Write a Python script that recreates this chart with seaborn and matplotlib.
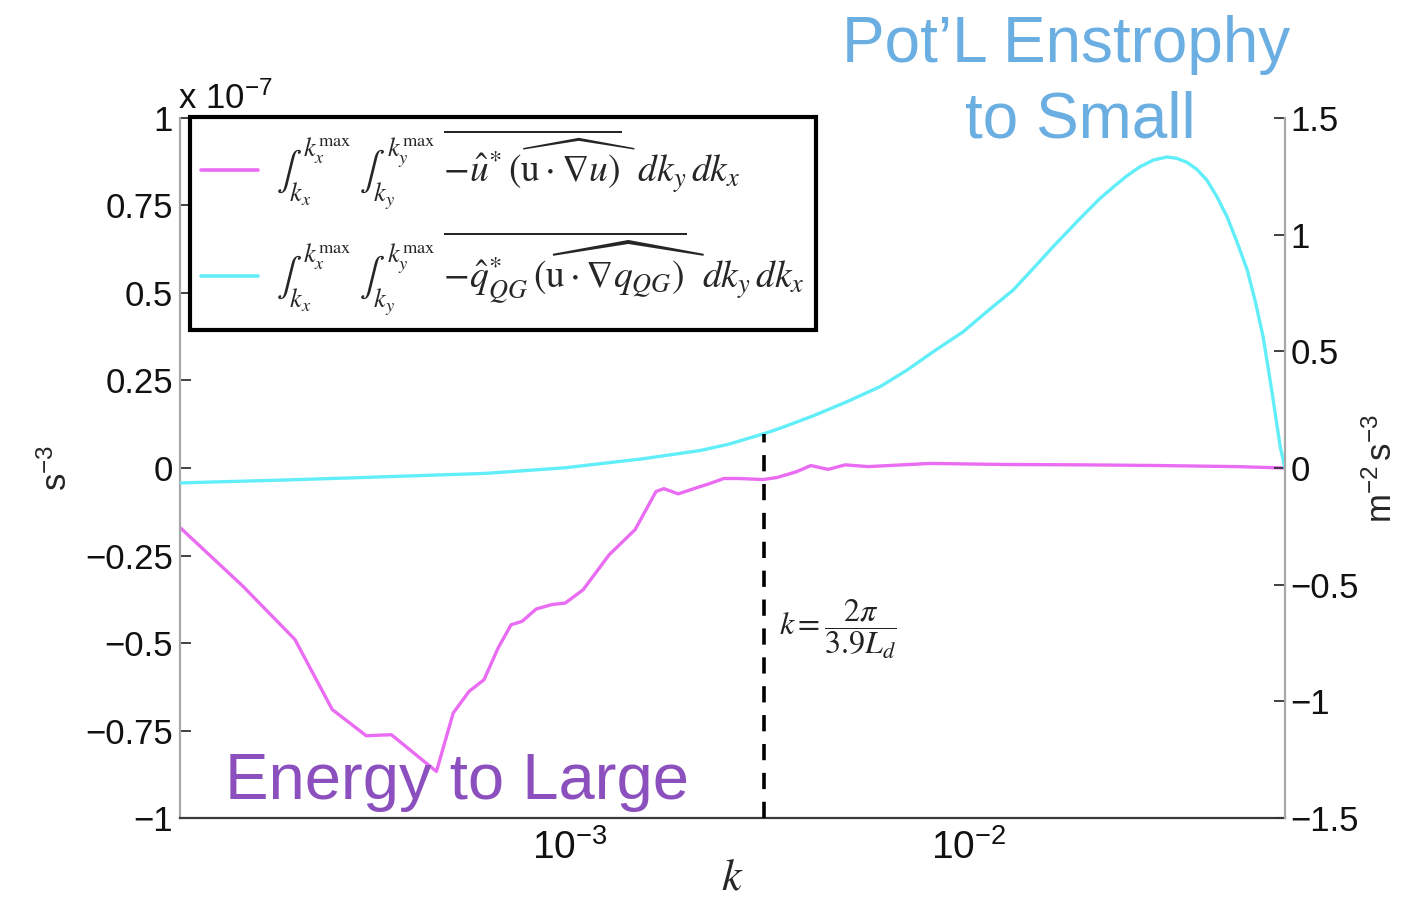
import numpy as np
import pandas as pd
import matplotlib
matplotlib.use("Agg")
import matplotlib.pyplot as plt
import seaborn as sns
from matplotlib.font_manager import FontProperties
from matplotlib.ticker import FixedLocator, FuncFormatter, LogLocator, NullFormatter

# Spectral flux of kinetic energy (left axis, units of 1e-7 s^-3)
k_energy = [1.05e-4, 1.511e-4, 2.04e-4, 2.53e-4, 3.08e-4, 3.56e-4, 4.62e-4, 5.09e-4,
            5.58e-4, 6.08e-4, 6.60e-4, 7.11e-4, 7.58e-4, 8.22e-4, 9.01e-4, 9.72e-4,
            1.078e-3, 1.253e-3, 1.456e-3, 1.643e-3, 1.72e-3, 1.867e-3, 2.07e-3, 2.22e-3,
            2.43e-3, 2.65e-3, 3.05e-3, 3.31e-3, 3.69e-3, 4.02e-3, 4.44e-3, 4.90e-3,
            5.60e-3, 8.0e-3, 1.24e-2, 1.94e-2, 3.01e-2, 4.69e-2, 6.22e-2]
energy_flux = [-0.17, -0.338, -0.49, -0.69, -0.765, -0.762, -0.867, -0.70,
               -0.638, -0.605, -0.514, -0.448, -0.438, -0.403, -0.39, -0.386,
               -0.348, -0.248, -0.176, -0.067, -0.059, -0.074, -0.057, -0.046,
               -0.03, -0.03, -0.033, -0.027, -0.011, 0.007, -0.004, 0.009,
               0.004, 0.013, 0.010, 0.009, 0.007, 0.004, 0.0]

# Spectral flux of QG potential enstrophy (right axis, m^-2 s^-3)
k_enstrophy = [1.05e-4, 1.96e-4, 3.11e-4, 6.15e-4, 9.72e-4, 1.53e-3, 2.12e-3, 2.5e-3,
               3.05e-3, 3.36e-3, 4.08e-3, 4.95e-3, 6.0e-3, 7.01e-3, 8.16e-3, 9.69e-3,
               1.111e-2, 1.294e-2, 1.454e-2, 1.63e-2, 1.905e-2, 2.138e-2, 2.31e-2,
               2.495e-2, 2.69e-2, 2.909e-2, 3.15e-2, 3.33e-2, 3.53e-2, 3.737e-2, 3.96e-2,
               4.196e-2, 4.45e-2, 4.71e-2, 5.0e-2, 5.24e-2, 5.48e-2, 5.76e-2, 6.05e-2,
               6.22e-2]
enstrophy_flux = [-0.064, -0.051, -0.040, -0.023, 0.001, 0.040, 0.075, 0.102,
                  0.146, 0.170, 0.224, 0.284, 0.349, 0.420, 0.499, 0.584,
                  0.670, 0.763, 0.856, 0.949, 1.070, 1.156, 1.205,
                  1.252, 1.291, 1.320, 1.333, 1.327, 1.310, 1.280, 1.234,
                  1.163, 1.077, 0.970, 0.849, 0.713, 0.563, 0.334, 0.091,
                  0.0]

# Deformation wavenumber k = 2*pi / (3.9 L_d)
k_deform = 3.07e-3

left_ticks = [-1, -0.75, -0.5, -0.25, 0, 0.25, 0.5, 0.75, 1]
right_ticks = [-1.5, -1, -0.5, 0, 0.5, 1, 1.5]

energy_label = (r"$\int_{k_x}^{k_x^{\max}}\ \int_{k_y}^{k_y^{\max}}\ "
                r"\overline{-\hat{u}^{*}\,\widehat{\left(\mathrm{u}\cdot\nabla u\right)}}"
                r"\ \ dk_y\,dk_x$")
enstrophy_label = (r"$\int_{k_x}^{k_x^{\max}}\ \int_{k_y}^{k_y^{\max}}\ "
                   r"\overline{-\hat{q}_{QG}^{*}\,\widehat{\left(\mathrm{u}\cdot\nabla q_{QG}\right)}}"
                   r"\ \ dk_y\,dk_x$")

MAGENTA = "#ea6cf2"
CYAN = "#62eef8"

sns.set_theme(style="white")
plt.rcParams["font.family"] = ["Liberation Sans", "DejaVu Sans"]
plt.rcParams["mathtext.fontset"] = "custom"
plt.rcParams["mathtext.rm"] = "Liberation Sans"
plt.rcParams["mathtext.it"] = "Liberation Sans:italic"
plt.rcParams["mathtext.bf"] = "Liberation Sans:bold"
plt.rcParams["axes.unicode_minus"] = True

df_e = pd.DataFrame({"k": k_energy, "flux": energy_flux})
df_q = pd.DataFrame({"k": k_enstrophy, "flux": enstrophy_flux})

fig = plt.figure(figsize=(14.19, 9), dpi=100)
ax = fig.add_axes([0.12685, 0.09111, 0.77872, 0.77778])
ax.set_xscale("log")
ax2 = ax.twinx()
ax2.set_xscale("log")

sns.lineplot(data=df_e, x="k", y="flux", ax=ax, color=MAGENTA, lw=2.4,
             sort=False, estimator=None, label=energy_label, legend=False)
sns.lineplot(data=df_q, x="k", y="flux", ax=ax2, color=CYAN, lw=2.4,
             sort=False, estimator=None, label=enstrophy_label, legend=False)

# dashed marker of the deformation scale, from the axis up to the enstrophy curve
top = np.interp(np.log10(k_deform), np.log10(k_enstrophy), enstrophy_flux)
ax2.plot([k_deform, k_deform], [-1.5, top], color="black", lw=2.6,
         dashes=(4.5, 3.5), zorder=5)

ax.set_xlim(1.05e-4, 6.22e-2)
ax.set_ylim(-1, 1)
ax2.set_ylim(-1.5, 1.5)

fmt = FuncFormatter(lambda v, p: f"{v:g}".replace("-", "\u2212"))
ax.yaxis.set_major_locator(FixedLocator(left_ticks))
ax.yaxis.set_major_formatter(fmt)
ax2.yaxis.set_major_locator(FixedLocator(right_ticks))
ax2.yaxis.set_major_formatter(fmt)
ax.xaxis.set_major_locator(LogLocator(base=10))
ax.xaxis.set_minor_locator(LogLocator(base=10, subs=np.arange(2, 10)))
ax.xaxis.set_minor_formatter(NullFormatter())

for a in (ax, ax2):
    a.spines["top"].set_visible(False)
    a.grid(False)
    a.set_facecolor("none")
ax.spines["left"].set_color("#a8a8a8")
ax.spines["right"].set_visible(False)
ax.spines["bottom"].set_color("#3a3a3a")
ax2.spines["right"].set_color("#a8a8a8")
ax2.spines["left"].set_visible(False)
ax2.spines["bottom"].set_visible(False)
for a in (ax, ax2):
    for s in a.spines.values():
        s.set_linewidth(1.6)

ax.tick_params(axis="y", direction="in", length=8, width=1.3, color="#333333",
               labelsize=25, pad=5, labelcolor="#111111")
ax2.tick_params(axis="y", direction="in", length=8, width=1.3, color="#333333",
                labelsize=25, pad=4, labelcolor="#111111")
ax.tick_params(axis="x", which="major", direction="in", length=9, width=1.3,
               color="#333333", labelsize=28, pad=8, labelcolor="#111111")
ax.tick_params(axis="x", which="minor", direction="in", length=5, width=1.0,
               color="#333333")

ax.set_xlabel(r"$k$", fontproperties=FontProperties(size=32, math_fontfamily="stix"),
              labelpad=-7)
ax.set_ylabel(r"$\mathregular{s^{-3}}$", fontsize=25, labelpad=8)
ax2.set_ylabel(r"$\mathregular{m^{-2}\,s^{-3}}$", fontsize=25, labelpad=4)

fig.text(178 / 1419, 1 - 109 / 900, r"x $\mathregular{10^{-7}}$", fontsize=25,
         va="baseline", ha="left", color="#111111")

ax.text(k_deform * 1.09, -0.46, r"$k=\dfrac{2\pi}{3.9L_d}$",
        va="center", ha="left", color="#222222",
        fontproperties=FontProperties(size=23, math_fontfamily="stix"))

h1, l1 = ax.get_legend_handles_labels()
h2, l2 = ax2.get_legend_handles_labels()
leg = ax2.legend(h1 + h2, l1 + l2, loc="upper left",
                 bbox_to_anchor=(190 / 1419, 1 - 117 / 900),
                 bbox_transform=fig.transFigure,
                 prop=FontProperties(size=27, math_fontfamily="stix"),
                 handlelength=1.5, handletextpad=0.5, labelspacing=0.47,
                 borderpad=0.3, borderaxespad=0, fancybox=False, framealpha=1,
                 edgecolor="black")
leg.get_frame().set_linewidth(3)
for ln in leg.get_lines():
    ln.set_linewidth(2.6)

# handwritten-style callouts
fig.text(1066 / 1419, 1 - 45 / 900, "Pot\u2019L Enstrophy", fontsize=46,
         color="#6aaee2", ha="center", va="center")
fig.text(1080 / 1419, 1 - 120 / 900, "to Small", fontsize=46,
         color="#6aaee2", ha="center", va="center")
fig.text(457 / 1419, 1 - 782 / 900, "Energy to Large", fontsize=47,
         color="#8c50be", ha="center", va="center")

fig.savefig("out.png", dpi=100)
